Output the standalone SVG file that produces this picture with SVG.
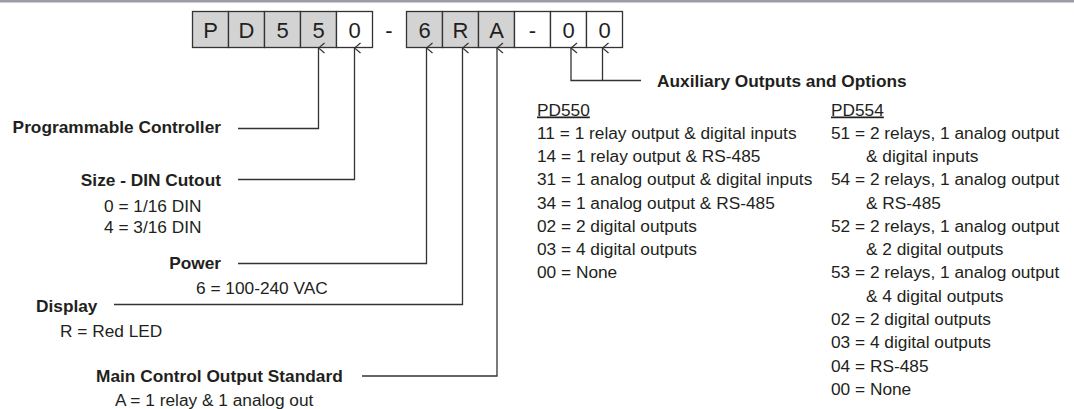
<svg xmlns="http://www.w3.org/2000/svg" width="1074" height="409" viewBox="0 0 1074 409">
<style>
text{font-family:"Liberation Sans",Arial,sans-serif;fill:#231f20}
.b{font-weight:bold;font-size:17.3px}
.t{font-size:17.3px}
.bx{stroke:#333;stroke-width:1.3}
.g{fill:#d3d3d3}
.w{fill:#fff}
.ch{font-size:22px;text-anchor:middle}
.ln{fill:none;stroke:#333;stroke-width:1.3}
.u{text-decoration:underline}
</style>
<defs>
<marker id="ah" markerWidth="12" markerHeight="8" refX="6" refY="1" orient="auto-start-reverse" markerUnits="userSpaceOnUse" viewBox="0 0 12 8">
<path d="M1,7 L6,1 L11,7" fill="none" stroke="#333" stroke-width="1.2"/>
</marker>
</defs>
<rect x="0" y="0" width="1074" height="2.5" fill="#9b9da6"/>
<g id="code">
<rect class="bx g" x="192.5" y="11.5" width="36" height="36"/>
<rect class="bx g" x="228.5" y="11.5" width="36" height="36"/>
<rect class="bx g" x="264.5" y="11.5" width="36" height="36"/>
<rect class="bx g" x="300.5" y="11.5" width="36" height="36"/>
<rect class="bx w" x="336.5" y="11.5" width="36" height="36"/>
<rect class="bx g" x="406.5" y="11.5" width="36" height="36"/>
<rect class="bx g" x="442.5" y="11.5" width="36" height="36"/>
<rect class="bx g" x="478.5" y="11.5" width="36" height="36"/>
<rect class="bx w" x="514.5" y="11.5" width="36" height="36"/>
<rect class="bx w" x="550.5" y="11.5" width="36" height="36"/>
<rect class="bx w" x="586.5" y="11.5" width="36" height="36"/>
<text class="ch" x="210.5" y="37.5">P</text>
<text class="ch" x="246.5" y="37.5">D</text>
<text class="ch" x="282.5" y="37.5">5</text>
<text class="ch" x="318.5" y="37.5">5</text>
<text class="ch" x="354.5" y="37.5">0</text>
<text class="ch" x="389" y="37.5">-</text>
<text class="ch" x="424.5" y="37.5">6</text>
<text class="ch" x="460.5" y="37.5">R</text>
<text class="ch" x="496.5" y="37.5">A</text>
<text class="ch" x="532.5" y="37.5">-</text>
<text class="ch" x="568.5" y="37.5">0</text>
<text class="ch" x="604.5" y="37.5">0</text>
</g>
<g id="connectors">
<path class="ln" d="M238,128.5 H318.5 V48" marker-end="url(#ah)"/>
<path class="ln" d="M238,179.5 H354.5 V48" marker-end="url(#ah)"/>
<path class="ln" d="M238,263.5 H426.5 V48" marker-end="url(#ah)"/>
<path class="ln" d="M114,304.5 H462.5 V48" marker-end="url(#ah)"/>
<path class="ln" d="M362,376 H497 V48" marker-end="url(#ah)"/>
<path class="ln" d="M641,80.5 H571 V48" marker-end="url(#ah)"/>
<path class="ln" d="M602.5,80.5 V48" marker-end="url(#ah)"/>
</g>
<g id="prog">
<text class="b" x="221" y="132.5" text-anchor="end">Programmable Controller</text>
</g>
<g id="size">
<text class="b" x="221" y="186" text-anchor="end">Size - DIN Cutout</text>
<text class="t" x="104" y="211.5">0 = 1/16 DIN</text>
<text class="t" x="104" y="233">4 = 3/16 DIN</text>
</g>
<g id="power">
<text class="b" x="221" y="268.5" text-anchor="end">Power</text>
<text class="t" x="196" y="293.5">6 = 100-240 VAC</text>
</g>
<g id="display">
<text class="b" x="36" y="311.5">Display</text>
<text class="t" x="60" y="336.5">R = Red LED</text>
</g>
<g id="main">
<text class="b" x="96" y="381.5">Main Control Output Standard</text>
<text class="t" x="115" y="406">A = 1 relay &amp; 1 analog out</text>
</g>
<g id="aux">
<text class="b" x="657" y="86.5">Auxiliary Outputs and Options</text>
<text class="t u" x="537" y="115.5">PD550</text>
<text class="t" x="537" y="138.5">11 = 1 relay output &amp; digital inputs</text>
<text class="t" x="537" y="162">14 = 1 relay output &amp; RS-485</text>
<text class="t" x="537" y="185">31 = 1 analog output &amp; digital inputs</text>
<text class="t" x="537" y="208.5">34 = 1 analog output &amp; RS-485</text>
<text class="t" x="537" y="231.5">02 = 2 digital outputs</text>
<text class="t" x="537" y="255">03 = 4 digital outputs</text>
<text class="t" x="537" y="278">00 = None</text>
<text class="t u" x="831" y="115.5">PD554</text>
<text class="t" x="831" y="138.5">51 = 2 relays, 1 analog output</text>
<text class="t" x="866" y="162">&amp; digital inputs</text>
<text class="t" x="831" y="185">54 = 2 relays, 1 analog output</text>
<text class="t" x="866" y="208.5">&amp; RS-485</text>
<text class="t" x="831" y="231.5">52 = 2 relays, 1 analog output</text>
<text class="t" x="866" y="255">&amp; 2 digital outputs</text>
<text class="t" x="831" y="278">53 = 2 relays, 1 analog output</text>
<text class="t" x="866" y="301.5">&amp; 4 digital outputs</text>
<text class="t" x="831" y="325">02 = 2 digital outputs</text>
<text class="t" x="831" y="348">03 = 4 digital outputs</text>
<text class="t" x="831" y="371.5">04 = RS-485</text>
<text class="t" x="831" y="395">00 = None</text>
</g>
</svg>
